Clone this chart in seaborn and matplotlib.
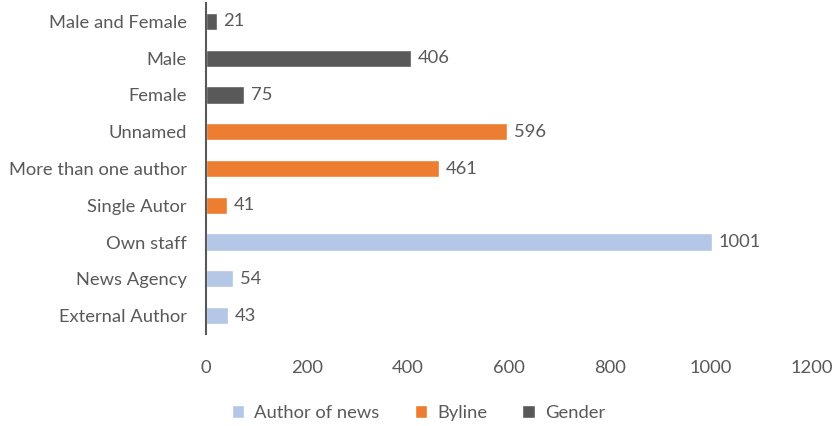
import matplotlib
matplotlib.use("Agg")
import matplotlib.pyplot as plt
import seaborn as sns
import pandas as pd

categories = ["Male and Female", "Male", "Female", "Unnamed", "More than one author",
              "Single Autor", "Own staff", "News Agency", "External Author"]
values = [21, 406, 75, 596, 461, 41, 1001, 54, 43]
groups = ["Gender", "Gender", "Gender", "Byline", "Byline", "Byline",
          "Author of news", "Author of news", "Author of news"]
group_order = ["Author of news", "Byline", "Gender"]
palette = {"Author of news": "#B4C7E7", "Byline": "#ED7D31", "Gender": "#595959"}
x_ticks = [0, 200, 400, 600, 800, 1000, 1200]

df = pd.DataFrame({"category": categories, "value": values, "group": groups})

sns.set_theme(style="white")
plt.rcParams["font.family"] = ["Lato", "DejaVu Sans"]
text_color = "#595959"
fs = 13.2

fig = plt.figure(figsize=(8.37, 4.26), dpi=100)
ax = fig.add_axes([206 / 837, 1 - 334 / 426, (812 - 206) / 837, (334 - 3) / 426])

sns.barplot(data=df, y="category", x="value", hue="group", hue_order=group_order,
            order=categories, palette=palette, dodge=False, width=0.47,
            orient="h", ax=ax, saturation=1)

for container in ax.containers:
    labels = [f"{int(v)}" if v == v else "" for v in container.datavalues]
    ax.bar_label(container, labels=labels, padding=5, fontsize=fs, color=text_color)

ax.set_xlim(0, 1200)
ax.set_ylim(8.5, -0.5)
ax.set_xticks(x_ticks)
ax.set_xticklabels([str(t) for t in x_ticks])
ax.set_xlabel("")
ax.set_ylabel("")
ax.tick_params(axis="x", length=0, pad=19, labelsize=fs, labelcolor=text_color)
ax.tick_params(axis="y", length=0, pad=14, labelsize=fs, labelcolor=text_color)

for side in ["top", "right", "bottom"]:
    ax.spines[side].set_visible(False)
ax.spines["left"].set_color("#595959")
ax.spines["left"].set_linewidth(1.5)

handles, labels = ax.get_legend_handles_labels()
ax.legend_.remove()
fig.legend(handles, labels, loc="center", bbox_to_anchor=(0.5, 1 - 413 / 426),
           ncol=3, frameon=False, fontsize=fs, handlelength=0.7, handleheight=0.7,
           columnspacing=1.9, handletextpad=0.55, labelcolor=text_color)

fig.savefig("out.png", dpi=100)
